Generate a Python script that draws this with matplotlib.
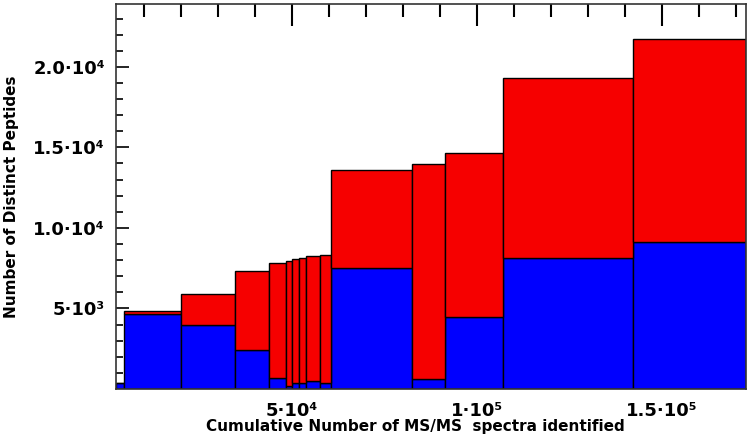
import numpy as np
import matplotlib.pyplot as plt

# bin edges along cumulative number of MS/MS spectra
edges = [2400, 4600, 20000, 34600, 43800, 48400, 50100, 51900, 53900,
         57600, 60400, 82300, 91400, 107000, 142200, 172600]
# cumulative distinct peptides (top of red) and lower part (blue)
total = [391, 4845, 5882, 7330, 7807, 7969, 8075, 8137, 8261, 8292,
         13602, 13975, 14639, 19335, 21738]
lower = [391, 4640, 3956, 2422, 702, 186, 391, 354, 516, 354,
         7515, 640, 4453, 8136, 9112]

xticks = [50000, 100000, 150000]
xlabels = ['5·10⁴', '1·10⁵', '1.5·10⁵']
yticks = [5000, 10000, 15000, 20000]
ylabels = ['5·10³', '1.0·10⁴', '1.5·10⁴', '2.0·10⁴']

edges = np.array(edges)
left = edges[:-1]
width = np.diff(edges)
total = np.array(total)
lower = np.array(lower)

fig = plt.figure(figsize=(7.5, 4.37), dpi=100)
ax = fig.add_axes([0.1547, 0.1098, 0.994 - 0.1547, 0.9908 - 0.1098])

ax.bar(left, lower, width=width, align='edge', color='#0000ff',
       edgecolor='black', linewidth=1.0)
ax.bar(left, total - lower, bottom=lower, width=width, align='edge',
       color='#f60000', edgecolor='black', linewidth=1.0)

ax.set_xlim(2400, 172600)
ax.set_ylim(0, 23900)

# top axis carries the tick marks, bottom only the labels
ax.set_xticks(xticks)
ax.set_xticklabels(xlabels, fontsize=13, fontweight='bold')
ax.set_xticks(np.arange(10000, 172600, 10000), minor=True)
ax.tick_params(axis='x', which='both', bottom=False, top=True,
               labelbottom=True, direction='in', pad=9)
ax.tick_params(axis='x', which='major', length=16, width=1.5)
ax.tick_params(axis='x', which='minor', length=9, width=1.5)

ax.set_yticks(yticks)
ax.set_yticklabels(ylabels, fontsize=13, fontweight='bold')
ax.set_yticks(np.arange(1000, 23900, 1000), minor=True)
ax.tick_params(axis='y', which='both', left=True, right=False,
               direction='in', pad=8)
ax.tick_params(axis='y', which='major', length=9, width=1.2)
ax.tick_params(axis='y', which='minor', length=5, width=1.2)

for s in ax.spines.values():
    s.set_color('#333333')
    s.set_linewidth(1.2)

ax.set_xlabel('Cumulative Number of MS/MS  spectra identified',
              fontsize=11, fontweight='bold')
ax.xaxis.set_label_coords(0.475, -0.078)
ax.set_ylabel('Number of Distinct Peptides', fontsize=11,
              fontweight='bold')
ax.yaxis.set_label_coords(-0.154, 0.5)

fig.savefig('out.png', dpi=100)
